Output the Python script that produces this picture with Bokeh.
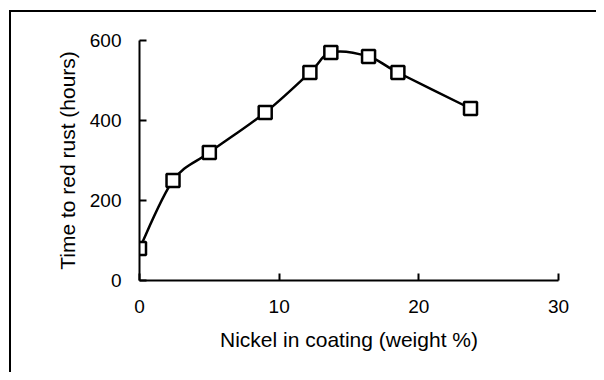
from bokeh.plotting import figure
from bokeh.models import Range1d, FixedTicker
from bokeh.embed import file_html
from bokeh.resources import INLINE

nickel_pct = [0, 2.4, 5.0, 9.0, 12.2, 13.7, 16.4, 18.5, 23.7]
rust_hours = [80, 250, 320, 420, 520, 570, 560, 520, 430]
x_ticks = [0, 10, 20, 30]
y_ticks = [0, 200, 400, 600]

FONT = "Liberation Sans"

p = figure(width=596, height=372, output_backend="svg", toolbar_location=None,
           x_range=Range1d(0, 30), y_range=Range1d(0, 600),
           min_border_left=139, min_border_right=38, min_border_top=40, min_border_bottom=92)
p.border_fill_color = None
p.background_fill_color = None
p.styles = {
    "background": "linear-gradient(#000,#000) 9px 10px / 2px calc(100% - 10px) no-repeat, "
                  "linear-gradient(#000,#000) 9px 10px / calc(100% - 9px) 2px no-repeat, #fff"
}
p.outline_line_color = None
p.xgrid.visible = False
p.ygrid.visible = False

# smoothed connecting line (Catmull-Rom style segments through the data points)
n = len(nickel_pct)
x0, y0, x1, y1, cx0, cy0, cx1, cy1 = ([] for _ in range(8))
for i in range(n - 1):
    a = max(i - 1, 0)
    b = min(i + 2, n - 1)
    x0.append(nickel_pct[i]); y0.append(rust_hours[i])
    x1.append(nickel_pct[i + 1]); y1.append(rust_hours[i + 1])
    cx0.append(nickel_pct[i] + (nickel_pct[i + 1] - nickel_pct[a]) / 6)
    cy0.append(rust_hours[i] + (rust_hours[i + 1] - rust_hours[a]) / 6)
    cx1.append(nickel_pct[i + 1] - (nickel_pct[b] - nickel_pct[i]) / 6)
    cy1.append(rust_hours[i + 1] - (rust_hours[b] - rust_hours[i]) / 6)
p.bezier(x0=x0, y0=y0, x1=x1, y1=y1, cx0=cx0, cy0=cy0, cx1=cx1, cy1=cy1,
         line_color="black", line_width=2.5)

p.scatter(nickel_pct, rust_hours, marker="square", size=13, fill_color="white",
          line_color="black", line_width=2.5)

for ax, ticks in ((p.xaxis[0], x_ticks), (p.yaxis[0], y_ticks)):
    ax.ticker = FixedTicker(ticks=ticks)
    ax.axis_line_width = 2
    ax.axis_line_color = "black"
    ax.major_tick_line_width = 2
    ax.major_tick_in = 7
    ax.major_tick_out = 0
    ax.minor_tick_line_color = None
    ax.major_label_text_font = FONT
    ax.major_label_text_font_size = "19px"
    ax.major_label_text_color = "black"
    ax.axis_label_text_font = FONT
    ax.axis_label_text_font_size = "21px"
    ax.axis_label_text_font_style = "normal"
    ax.axis_label_text_color = "black"

p.xaxis.axis_label = "Nickel in coating (weight %)"
p.yaxis.axis_label = "Time to red rust (hours)"
p.xaxis.major_label_standoff = 19
p.yaxis.major_label_standoff = 18
p.xaxis.axis_label_standoff = 12
p.yaxis.axis_label_standoff = 8

open("out.html", "w").write(file_html(p, INLINE))
